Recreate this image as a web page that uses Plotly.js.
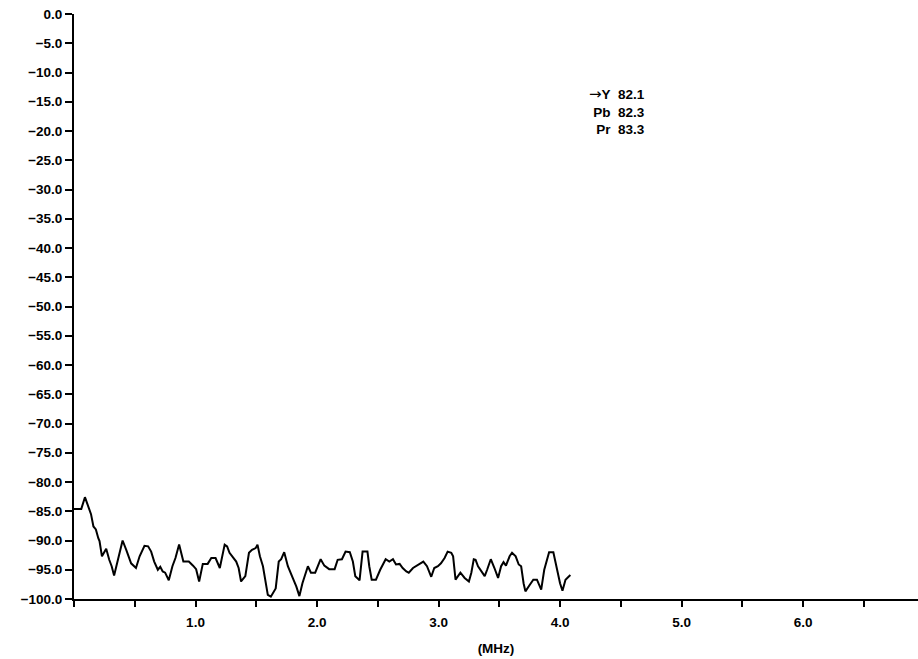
<!DOCTYPE html>
<html>
<head>
<meta charset="utf-8">
<script src="https://cdn.plot.ly/plotly-3.0.1.min.js"></script>
<style>html,body{margin:0;padding:0;background:#fff;}#chart{width:918px;height:659px;}</style>
</head>
<body>
<div id="chart"></div>
<script>
const freqMHz = [0.00,0.06,0.09,0.11,0.14,0.16,0.18,0.20,0.21,0.23,0.265,0.29,0.31,0.33,0.37,0.40,0.43,0.45,0.47,0.51,0.54,0.58,0.61,0.635,0.66,0.69,0.71,0.73,0.75,0.78,0.81,0.835,0.865,0.90,0.945,0.98,1.005,1.03,1.06,1.10,1.13,1.165,1.20,1.24,1.26,1.28,1.31,1.335,1.355,1.375,1.41,1.44,1.465,1.495,1.51,1.53,1.555,1.58,1.595,1.62,1.66,1.685,1.705,1.73,1.76,1.80,1.83,1.855,1.88,1.925,1.95,1.985,2.03,2.06,2.10,2.145,2.17,2.205,2.235,2.27,2.295,2.315,2.35,2.375,2.415,2.43,2.45,2.485,2.52,2.565,2.595,2.625,2.65,2.68,2.705,2.735,2.755,2.79,2.82,2.85,2.875,2.905,2.94,2.965,2.995,3.02,3.05,3.075,3.105,3.12,3.14,3.18,3.215,3.25,3.27,3.29,3.305,3.325,3.36,3.38,3.40,3.43,3.46,3.49,3.515,3.535,3.555,3.585,3.605,3.635,3.66,3.68,3.70,3.715,3.75,3.78,3.81,3.845,3.87,3.91,3.945,3.98,4.00,4.02,4.045,4.085];
const levelDb = [-84.6,-84.6,-82.6,-83.8,-85.5,-87.6,-88.1,-89.6,-90.1,-92.7,-91.4,-93.3,-94.4,-96.0,-92.4,-90.0,-91.6,-92.7,-93.9,-94.7,-92.7,-90.9,-91.0,-91.9,-93.6,-95.0,-94.5,-95.3,-95.5,-96.8,-94.4,-93.0,-90.7,-93.6,-93.6,-94.3,-94.9,-97.0,-94.0,-94.0,-93.0,-93.0,-94.7,-90.7,-91.0,-92.1,-93.0,-93.6,-94.7,-97.0,-96.1,-92.1,-91.6,-91.3,-90.7,-92.7,-94.4,-97.6,-99.3,-99.6,-98.2,-93.6,-93.2,-92.0,-94.4,-96.4,-97.9,-99.5,-97.3,-94.4,-95.5,-95.5,-93.2,-94.3,-94.9,-94.9,-93.3,-93.2,-91.9,-92.0,-93.6,-96.1,-96.8,-91.9,-91.9,-94.4,-96.7,-96.7,-95.0,-93.2,-93.6,-93.2,-94.1,-94.0,-94.7,-95.3,-95.5,-94.7,-94.3,-93.9,-93.6,-94.4,-96.2,-94.7,-94.4,-93.9,-93.0,-91.9,-92.1,-92.7,-96.7,-95.5,-96.4,-97.0,-95.5,-93.2,-93.3,-94.4,-95.5,-96.1,-95.0,-93.2,-94.7,-96.4,-94.4,-93.7,-94.3,-92.7,-92.1,-92.7,-94.1,-94.4,-97.3,-98.7,-97.6,-96.7,-96.7,-98.4,-95.0,-92.0,-92.0,-95.5,-97.3,-98.6,-96.7,-95.9];

const xTickVals = [0,0.5,1,1.5,2,2.5,3,3.5,4,4.5,5,5.5,6,6.5];
const xTickText = ['','','1.0','','2.0','','3.0','','4.0','','5.0','','6.0',''];
const xTitle = '(MHz)';
const legendNames = ['\u2192Y','Pb','Pr'];
const legendValues = ['82.1','82.3','83.3'];

const fam = 'Liberation Sans, Arial, sans-serif';

const legendText = legendNames.map((n, i) => {
  const name = n.startsWith('\u2192')
    ? '<span style="font-family:DejaVu Sans;font-weight:normal;font-size:15px">\u2192</span>' + n.slice(1)
    : n;
  return '<b>' + name + '&nbsp;&nbsp;' + legendValues[i] + '</b>';
}).join('<br>');

Plotly.newPlot('chart', [{
  x: freqMHz, y: levelDb, type: 'scatter', mode: 'lines',
  line: {color: '#000', width: 2}, hoverinfo: 'skip', showlegend: false
}], {
  width: 918, height: 659,
  margin: {l: 74, r: 0, t: 14, b: 60, pad: 0},
  paper_bgcolor: '#fff', plot_bgcolor: '#fff',
  font: {family: fam, size: 13, color: '#000'},
  xaxis: {
    range: [0, 6.946], tickmode: 'array', tickvals: xTickVals, ticktext: xTickText,
    ticks: 'outside', ticklen: 6, tickwidth: 2, tickcolor: '#000', ticklabelstandoff: 4,
    showline: true, linewidth: 2, linecolor: '#000', showgrid: false, zeroline: false,
    tickfont: {family: fam, size: 13.5, color: '#000', weight: 'bold'},
    title: {text: '<b>' + xTitle + '</b>', standoff: 14, font: {family: fam, size: 13.5, color: '#000'}}
  },
  yaxis: {
    range: [-100, 0], dtick: 5, tick0: 0, tickformat: '.1f',
    ticks: 'outside', ticklen: 7, tickwidth: 2, tickcolor: '#000',
    showline: true, linewidth: 2, linecolor: '#000', showgrid: false, zeroline: false,
    tickfont: {family: fam, size: 13.5, color: '#000', weight: 'bold'}
  },
  annotations: [{
    xref: 'x', yref: 'y', x: 4.715, y: -16.5, xanchor: 'right', yanchor: 'middle',
    align: 'right', showarrow: false, text: legendText,
    font: {family: fam, size: 13.5, color: '#000'}
  }]
}, {displayModeBar: false, staticPlot: true});
</script>
</body>
</html>
